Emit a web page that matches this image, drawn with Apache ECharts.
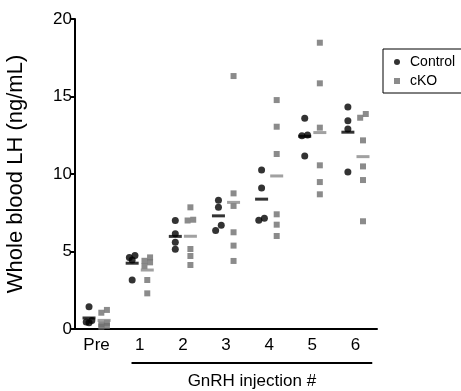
<!DOCTYPE html>
<html><head><meta charset="utf-8">
<script src="https://cdn.jsdelivr.net/npm/echarts@6/dist/echarts.min.js"></script>
<style>html,body{margin:0;padding:0;background:#fff}#c{width:461px;height:391px}</style>
</head><body><div id="c"></div>
<script>
const categories = ['Pre', '1', '2', '3', '4', '5', '6'];
const controlValues = [
  [1.44, 0.55, 0.45, 0.4],
  [4.75, 4.62, 4.45, 3.16],
  [7.0, 6.15, 5.6, 5.15],
  [8.3, 7.85, 6.7, 6.35],
  [10.26, 9.1, 7.14, 7.01],
  [13.6, 12.52, 12.46, 11.16],
  [14.32, 13.44, 12.9, 10.13]
];
const ckoValues = [
  [1.23, 1.05, 0.4, 0.3, 0.2, 0.15],
  [4.62, 4.4, 4.3, 4.05, 3.16, 2.3],
  [7.85, 7.05, 7.0, 5.16, 4.71, 4.13],
  [16.32, 8.75, 7.94, 6.24, 5.38, 4.39],
  [14.77, 13.05, 11.29, 7.4, 6.73, 6.0],
  [18.47, 15.85, 12.99, 10.56, 9.48, 8.69],
  [13.87, 13.63, 12.17, 10.49, 9.61, 6.95]
];
const yTicks = [0, 5, 10, 15, 20];
const seriesNames = ['Control', 'cKO'];
const yTitle = 'Whole blood LH (ng/mL)';
const xTitle = 'GnRH injection #';

const FONT = '"Liberation Sans", Arial, Helvetica, sans-serif';
const GROUP_OFFSET = 0.175;
const PAIR_SPREAD = 0.065;

function spread(groups, sign) {
  const pts = [];
  groups.forEach((vals, gi) => {
    const sorted = vals.slice().sort((a, b) => b - a);
    const offs = sorted.map(() => 0);
    for (let i = 1; i < sorted.length; i++) {
      if (sorted[i - 1] - sorted[i] < 0.4 && offs[i - 1] === 0) {
        offs[i - 1] = PAIR_SPREAD; offs[i] = -PAIR_SPREAD;
      }
    }
    sorted.forEach((v, i) => pts.push([gi + sign * GROUP_OFFSET + offs[i], v]));
  });
  return pts;
}
function means(groups, sign) {
  return groups.map((vals, gi) => [gi + sign * GROUP_OFFSET, vals.reduce((a, b) => a + b, 0) / vals.length]);
}

const chart = echarts.init(document.getElementById('c'), null, {renderer: 'canvas'});
const axisLineStyle = {color: '#000', width: 2};
chart.setOption({
  animation: false,
  backgroundColor: '#fff',
  textStyle: {fontFamily: FONT},
  grid: {left: 75, right: 84, top: 19, bottom: 62, containLabel: false, outerBoundsMode: 'none'},
  legend: {
    data: [
      {name: seriesNames[0], icon: 'circle'},
      {name: seriesNames[1], icon: 'rect'}
    ],
    orient: 'vertical', left: 383, top: 49,
    borderColor: '#000', borderWidth: 1,
    padding: [6, 60, 5, 11], itemGap: 5,
    itemWidth: 6, itemHeight: 6,
    textStyle: {fontSize: 14, color: '#000', fontFamily: FONT, padding: [0, 0, 0, 5]}
  },
  xAxis: [
    {
      type: 'category', data: categories, boundaryGap: true,
      axisLine: {onZero: false, lineStyle: axisLineStyle},
      axisTick: {alignWithLabel: true, length: 6, lineStyle: axisLineStyle},
      axisLabel: {fontSize: 17, color: '#000', margin: 8, fontFamily: FONT},
      splitLine: {show: false}
    },
    {type: 'value', min: -0.5, max: 6.5, show: false, axisLine: {onZero: false}}
  ],
  yAxis: {
    type: 'value', min: yTicks[0], max: yTicks[yTicks.length - 1], interval: yTicks[1] - yTicks[0],
    axisLine: {show: true, onZero: false, lineStyle: axisLineStyle},
    axisTick: {show: true, length: 5, lineStyle: axisLineStyle},
    axisLabel: {fontSize: 17, color: '#000', margin: 3, fontFamily: FONT},
    splitLine: {show: false},
    name: yTitle, nameLocation: 'middle', nameGap: 48, nameRotate: 90,
    nameTextStyle: {fontSize: 22, color: '#000', fontFamily: FONT}
  },
  series: [
    {name: seriesNames[0], type: 'scatter', xAxisIndex: 1, symbol: 'circle', symbolSize: 7,
     itemStyle: {color: '#000'}, data: spread(controlValues, -1), z: 3},
    {name: seriesNames[1], type: 'scatter', xAxisIndex: 1, symbol: 'rect', symbolSize: 6,
     itemStyle: {color: '#6e6e6e'}, data: spread(ckoValues, 1), z: 3},
    {name: 'ControlMean', type: 'scatter', xAxisIndex: 1, symbol: 'rect', symbolSize: [13, 3],
     itemStyle: {color: '#000'}, data: means(controlValues, -1), z: 4, silent: true},
    {name: 'cKOMean', type: 'scatter', xAxisIndex: 1, symbol: 'rect', symbolSize: [13, 3],
     itemStyle: {color: '#8a8a8a'}, data: means(ckoValues, 1), z: 4, silent: true}
  ]
});

const x0 = chart.convertToPixel({xAxisIndex: 1}, 1 - 0.19);
const x1 = chart.convertToPixel({xAxisIndex: 1}, 6 + 0.39);
const yBase = chart.convertToPixel({yAxisIndex: 0}, 0);
chart.setOption({
  graphic: [
    {type: 'line', shape: {x1: x0, y1: yBase + 34, x2: x1, y2: yBase + 34}, style: {stroke: '#000', lineWidth: 2}},
    {type: 'text', x: (x0 + x1) / 2, y: yBase + 52,
     style: {text: xTitle, fontSize: 17, fontFamily: FONT, fill: '#000', align: 'center', verticalAlign: 'middle'}}
  ]
});
</script>
</body></html>
